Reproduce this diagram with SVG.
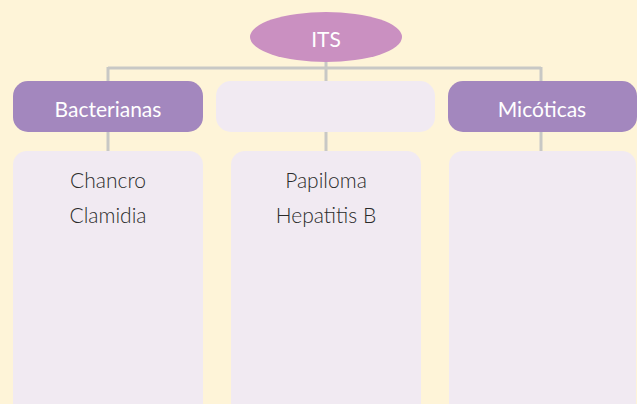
<svg xmlns="http://www.w3.org/2000/svg" width="637" height="404" viewBox="0 0 637 404">
<style>
.head{fill:#A387BE}
.light{fill:#F1EAF2}
.wt{font-family:"Lato","Open Sans",sans-serif;font-size:21px;fill:#ffffff;text-anchor:middle}
.dt{font-family:"Lato","Open Sans",sans-serif;font-size:21px;font-weight:300;fill:#2a2a2a;text-anchor:middle}
.ln{stroke:#C8C8C5;stroke-width:3;fill:none}
</style>
<rect x="0" y="0" width="637" height="404" fill="#FEF4D8"/>
<g id="connectors">
<path class="ln" d="M326 62V81 M108 68H541 M108 67V81 M541 67V81 M108 132V151 M326 132V151 M541 132V151"/>
</g>
<g id="its">
<ellipse cx="326" cy="37" rx="76" ry="25" fill="#CA90C1"/>
<text class="wt" x="326" y="47">ITS</text>
</g>
<g id="bacterianas">
<rect class="head" x="13" y="81" width="190" height="51" rx="15"/>
<text class="wt" x="108" y="117">Bacterianas</text>
</g>
<g id="virales">
<rect class="light" x="216" y="81" width="219" height="51" rx="15"/>
</g>
<g id="micoticas">
<rect class="head" x="448" y="81" width="189" height="51" rx="15"/>
<text class="wt" x="542" y="117">Micóticas</text>
</g>
<g id="box-bacterianas">
<rect class="light" x="13" y="151" width="190" height="265" rx="14"/>
<text class="dt" x="108" y="188">Chancro</text>
<text class="dt" x="108" y="223">Clamidia</text>
</g>
<g id="box-virales">
<rect class="light" x="231" y="151" width="190" height="265" rx="14"/>
<text class="dt" x="326" y="188">Papiloma</text>
<text class="dt" x="326" y="223">Hepatitis B</text>
</g>
<g id="box-micoticas">
<rect class="light" x="449" y="151" width="187" height="265" rx="14"/>
</g>
</svg>
